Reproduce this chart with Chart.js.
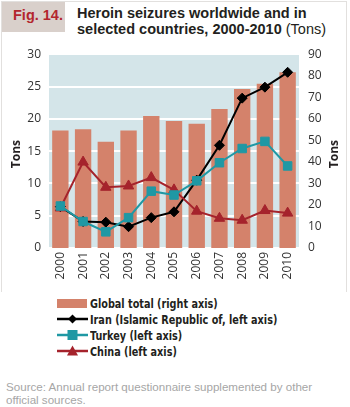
<!DOCTYPE html>
<html>
<head>
<meta charset="utf-8">
<script src="https://cdn.jsdelivr.net/npm/chart.js@4.4.1/dist/chart.umd.min.js"></script>
<style>
  body { margin: 0; width: 350px; height: 407px; background: #fff; position: relative; overflow: hidden; font-family: "Liberation Sans", Arial, sans-serif; }
  #frame { position: absolute; left: 1px; top: 1px; width: 344px; height: 290px; border: 1px solid #e2e0de; border-bottom: none; }
  #figbox { position: absolute; left: 2px; top: 2px; width: 63px; height: 30px; background: #d9d0cb; }
  #fig { position: absolute; left: 13px; top: 7px; color: #b3262e; font-weight: bold; font-size: 14.5px; }
  #title { position: absolute; left: 77px; top: 6px; color: #231f20; font-weight: bold; font-size: 14.5px; line-height: 15.5px; }
  #title span { font-weight: normal; }
  #wrap { position: absolute; left: 0; top: 38px; width: 350px; height: 246px; }
  #legend { position: absolute; left: 57px; top: 295px; font-family: "DejaVu Sans Condensed", "Liberation Sans", sans-serif; font-weight: bold; font-size: 12.5px; color: #231f20; }
  .row { height: 16px; display: flex; align-items: center; }
  .row svg { width: 32px; height: 14px; margin-right: 1px; }
  .row span { display: inline-block; white-space: nowrap; transform: scaleX(0.86); transform-origin: left center; }
  #source { position: absolute; left: 6px; top: 381px; color: #a6a6a6; font-size: 11.6px; line-height: 12.5px; }
</style>
</head>
<body>
<div id="frame"></div>
<div id="figbox"></div>
<div id="fig">Fig. 14.</div>
<div id="title">Heroin seizures worldwide and in<br>selected countries, 2000-2010 <span>(Tons)</span></div>
<div id="wrap"><canvas id="chart"></canvas></div>
<div id="legend"></div>
<div id="source">Source: Annual report questionnaire supplemented by other<br>official sources.</div>
<script>
const years = ["2000", "2001", "2002", "2003", "2004", "2005", "2006", "2007", "2008", "2009", "2010"];
const globalTotal = [54.6, 55.1, 49.4, 54.6, 61.3, 59.0, 57.7, 64.6, 73.8, 76.3, 81.6];
const iran = [6.4, 4.1, 4.0, 3.3, 4.7, 5.6, 10.5, 15.9, 23.2, 24.9, 27.2];
const turkey = [6.5, 4.1, 2.5, 4.7, 8.8, 8.2, 10.4, 13.2, 15.4, 16.5, 12.7];
const china = [6.2, 13.3, 9.4, 9.6, 10.9, 9.0, 5.7, 4.6, 4.3, 5.8, 5.4];
const leftTicks = [0, 5, 10, 15, 20, 25, 30];
const rightTicks = [0, 10, 20, 30, 40, 50, 60, 70, 80, 90];

const barColor = "#d4826b";
const iranColor = "#000000";
const turkeyColor = "#1f98a4";
const chinaColor = "#a5232c";
const tickFont = { family: "Open Sans", size: 12 };

const plotBackground = {
  id: "plotBackground",
  beforeDraw(chart) {
    const { ctx, chartArea } = chart;
    ctx.save();
    ctx.fillStyle = "#d4e5e9";
    ctx.fillRect(chartArea.left, chartArea.top, chartArea.right - chartArea.left, chartArea.bottom - chartArea.top);
    ctx.restore();
  },
};

// both axis titles read bottom-to-top in the original
const axisTitles = {
  id: "axisTitles",
  afterDraw(chart) {
    const { ctx, chartArea } = chart;
    const midY = (chartArea.top + chartArea.bottom) / 2 + 3;
    ctx.save();
    ctx.font = "bold 12px 'Open Sans'";
    ctx.fillStyle = "#231f20";
    ctx.textAlign = "center";
    ctx.textBaseline = "middle";
    [chartArea.left - 32, chartArea.right + 36].forEach((x) => {
      ctx.save();
      ctx.translate(x, midY);
      ctx.rotate(-Math.PI / 2);
      ctx.fillText("Tons", 0, 0);
      ctx.restore();
    });
    ctx.restore();
  },
};

const lineSet = (label, data, color, style, radius, order) => ({
  type: "line",
  label: label,
  data: data,
  yAxisID: "y",
  borderColor: color,
  backgroundColor: color,
  borderWidth: 2,
  pointStyle: style,
  pointRadius: radius,
  pointBorderWidth: 1,
  tension: 0,
  order: order,
});

new Chart(document.getElementById("chart"), {
  data: {
    labels: years,
    datasets: [
      lineSet("Iran (Islamic Republic of, left axis)", iran, iranColor, "rectRot", 5, 3),
      lineSet("China (left axis)", china, chinaColor, "triangle", 6, 2),
      lineSet("Turkey (left axis)", turkey, turkeyColor, "rect", 6, 1),
      {
        type: "bar",
        label: "Global total (right axis)",
        data: globalTotal,
        yAxisID: "y1",
        backgroundColor: barColor,
        barPercentage: 0.72,
        categoryPercentage: 1,
        order: 10,
      },
    ],
  },
  options: {
    responsive: true,
    maintainAspectRatio: false,
    animation: false,
    layout: { padding: { top: 14, bottom: 0, left: 0, right: 0 } },
    plugins: { legend: { display: false }, tooltip: { enabled: false } },
    scales: {
      x: {
        grid: { display: false, drawTicks: false },
        border: { display: false },
        ticks: { font: tickFont, color: "#333", minRotation: 90, maxRotation: 90, padding: 4 },
        afterFit: (s) => { s.height = 36; },
      },
      y: {
        position: "left",
        min: 0,
        max: 30,
        afterBuildTicks: (s) => { s.ticks = leftTicks.map((v) => ({ value: v })); },
        grid: { color: "#ffffff", lineWidth: 2, drawTicks: false },
        border: { display: false },
        ticks: { font: tickFont, color: "#333", padding: 8 },
        afterFit: (s) => { s.width = 49; },
      },
      y1: {
        position: "right",
        min: 0,
        max: 90,
        afterBuildTicks: (s) => { s.ticks = rightTicks.map((v) => ({ value: v })); },
        grid: { display: false, drawTicks: false },
        border: { display: false },
        ticks: { font: tickFont, color: "#333", padding: 9 },
        afterFit: (s) => { s.width = 51; },
      },
    },
  },
  plugins: [plotBackground, axisTitles],
});

// legend rows built from the same labels/colours
const legendItems = [
  { text: "Global total (right axis)", color: barColor, kind: "bar" },
  { text: "Iran (Islamic Republic of, left axis)", color: iranColor, kind: "diamond" },
  { text: "Turkey (left axis)", color: turkeyColor, kind: "square" },
  { text: "China (left axis)", color: chinaColor, kind: "triangle" },
];
const legend = document.getElementById("legend");
legendItems.forEach((item) => {
  let marker = "";
  if (item.kind === "bar") {
    marker = `<rect x="0" y="3" width="30" height="9" fill="${item.color}"/>`;
  } else {
    marker = `<line x1="0" y1="7" x2="31" y2="7" stroke="${item.color}" stroke-width="2.5"/>`;
    if (item.kind === "diamond") marker += `<polygon points="15.5,2.5 20,7 15.5,11.5 11,7" fill="${item.color}"/>`;
    if (item.kind === "square") marker += `<rect x="10.5" y="2" width="10" height="10" fill="${item.color}"/>`;
    if (item.kind === "triangle") marker += `<polygon points="15.5,1.5 21,11.5 10,11.5" fill="${item.color}"/>`;
  }
  const row = document.createElement("div");
  row.className = "row";
  row.innerHTML = `<svg viewBox="0 0 32 14">${marker}</svg><span>${item.text}</span>`;
  legend.appendChild(row);
});
</script>
</body>
</html>
